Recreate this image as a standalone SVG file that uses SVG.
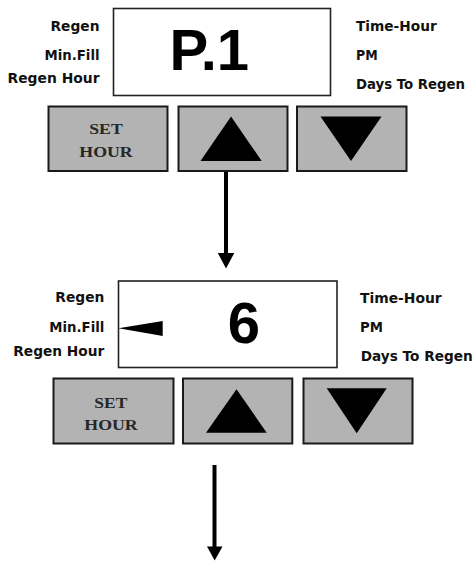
<svg xmlns="http://www.w3.org/2000/svg" width="473" height="561" viewBox="0 0 473 561">
<style>
.bg{fill:#ffffff}
.disp{fill:#ffffff;stroke:#222222;stroke-width:1.6}
.btn{fill:#b3b3b3;stroke:#1a1a1a;stroke-width:2}
.tri{fill:#000000}
.lbl{font-family:"DejaVu Sans","Liberation Sans",sans-serif;font-weight:bold;font-size:13.5px;fill:#111111}
.lblL{text-anchor:end}
.big{font-family:"Liberation Sans",Arial,sans-serif;font-weight:bold;font-size:58px;fill:#000000}
.set{font-family:"Liberation Serif","Times New Roman",serif;font-weight:bold;font-size:15.5px;fill:#262626;text-anchor:middle}
.conn{stroke:#000000;stroke-width:4;fill:none}
</style>
<rect class="bg" x="0" y="0" width="473" height="561"/>

<g id="display1">
  <rect class="disp" x="113.5" y="8.5" width="217" height="87"/>
  <text class="big" x="169.5" y="70">P.1</text>
</g>
<g id="labels1-left">
  <text class="lbl lblL" x="99.5" y="31" textLength="49" lengthAdjust="spacingAndGlyphs">Regen</text>
  <text class="lbl lblL" x="99.5" y="59.5" textLength="55" lengthAdjust="spacingAndGlyphs">Min.Fill</text>
  <text class="lbl lblL" x="99.5" y="83" textLength="92" lengthAdjust="spacingAndGlyphs">Regen Hour</text>
</g>
<g id="labels1-right">
  <text class="lbl" x="356" y="31" textLength="80.7" lengthAdjust="spacingAndGlyphs">Time-Hour</text>
  <text class="lbl" x="356" y="59.5" textLength="21.7" lengthAdjust="spacingAndGlyphs">PM</text>
  <text class="lbl" x="356" y="88.5" textLength="109" lengthAdjust="spacingAndGlyphs">Days To Regen</text>
</g>
<g id="set1">
  <rect class="btn" x="48.5" y="106.5" width="119" height="64.5"/>
  <text class="set" x="106" y="134.3" textLength="33.4" lengthAdjust="spacingAndGlyphs">SET</text>
  <text class="set" x="106" y="156.7" textLength="53.4" lengthAdjust="spacingAndGlyphs">HOUR</text>
</g>
<g id="up1">
  <rect class="btn" x="178.5" y="106.5" width="109" height="64.5"/>
  <polygon class="tri" points="231,116.5 261.7,161 200.5,161"/>
</g>
<g id="down1">
  <rect class="btn" x="297" y="106.5" width="109.5" height="64.5"/>
  <polygon class="tri" points="320.5,116.5 381.5,116.5 351,161"/>
</g>

<g id="display2">
  <rect class="disp" x="118.5" y="281" width="218.5" height="86.5"/>
  <polygon class="tri" points="118.5,328.3 162.7,321 162.7,336"/>
  <text class="big" x="227.7" y="342.5">6</text>
</g>
<g id="labels2-left">
  <text class="lbl lblL" x="104.3" y="302.3" textLength="49" lengthAdjust="spacingAndGlyphs">Regen</text>
  <text class="lbl lblL" x="104.3" y="332.3" textLength="55" lengthAdjust="spacingAndGlyphs">Min.Fill</text>
  <text class="lbl lblL" x="104.3" y="356" textLength="91" lengthAdjust="spacingAndGlyphs">Regen Hour</text>
</g>
<g id="labels2-right">
  <text class="lbl" x="360" y="302.7" textLength="81.7" lengthAdjust="spacingAndGlyphs">Time-Hour</text>
  <text class="lbl" x="360" y="332.3" textLength="23" lengthAdjust="spacingAndGlyphs">PM</text>
  <text class="lbl" x="360.7" y="360.7" textLength="112" lengthAdjust="spacingAndGlyphs">Days To Regen</text>
</g>
<g id="set2">
  <rect class="btn" x="53.5" y="378.5" width="120" height="65"/>
  <text class="set" x="110.8" y="408.3" textLength="33" lengthAdjust="spacingAndGlyphs">SET</text>
  <text class="set" x="111" y="430" textLength="53.4" lengthAdjust="spacingAndGlyphs">HOUR</text>
</g>
<g id="up2">
  <rect class="btn" x="183" y="378.5" width="109.3" height="65"/>
  <polygon class="tri" points="236.5,389.3 266.7,432.7 206,432.7"/>
</g>
<g id="down2">
  <rect class="btn" x="303.5" y="378.5" width="109" height="65"/>
  <polygon class="tri" points="326.7,388.3 386.7,388.3 356.7,433.3"/>
</g>

<g id="connectors">
  <line class="conn" x1="226" y1="172" x2="226" y2="256"/>
  <polygon class="tri" points="217.8,253 234.3,253 226,268.5"/>
  <line class="conn" x1="214.5" y1="465" x2="214.5" y2="549" stroke-width="4.5"/>
  <polygon class="tri" points="207,546.5 222.5,546.5 214.7,560.5"/>
</g>
</svg>
